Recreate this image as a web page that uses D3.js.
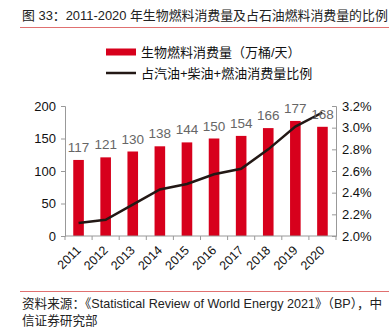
<!DOCTYPE html>
<html><head><meta charset="utf-8">
<script src="https://cdn.jsdelivr.net/npm/d3@7"></script>
<style>body{margin:0;background:#fff;}text{font-family:"Liberation Sans","Noto Sans CJK SC",sans-serif;}</style>
</head><body>
<svg id="c" width="389" height="329"></svg>
<script>
const years = ["2011","2012","2013","2014","2015","2016","2017","2018","2019","2020"];
const biofuel = [117,121,130,138,144,150,154,166,177,168];
const ratio = [2.12,2.15,2.29,2.43,2.48,2.57,2.62,2.80,3.01,3.14];
const leftTicks = [0,50,100,150,200];
const rightTicks = [2.0,2.2,2.4,2.6,2.8,3.0,3.2];

const svg = d3.select("#c");
const cjk = '"Liberation Sans","Noto Sans CJK SC",sans-serif';

svg.append("text").attr("x",22).attr("y",20).attr("font-size",12.9).attr("fill","#222")
  .style("font-family",cjk).text("图 33：2011-2020 年生物燃料消费量及占石油燃料消费量的比例");
svg.append("line").attr("x1",20).attr("x2",389).attr("y1",27.5).attr("y2",27.5).attr("stroke","#e07070").attr("stroke-width",1);

// legend
svg.append("rect").attr("x",106).attr("y",48.5).attr("width",30).attr("height",7).attr("fill","#d7001c");
svg.append("text").attr("x",141).attr("y",57).attr("font-size",13).attr("fill","#111").style("font-family",cjk).text("生物燃料消费量（万桶/天）");
svg.append("line").attr("x1",106).attr("x2",136).attr("y1",73).attr("y2",73).attr("stroke","#231815").attr("stroke-width",2.5);
svg.append("text").attr("x",141).attr("y",78).attr("font-size",13).attr("fill","#111").style("font-family",cjk).text("占汽油+柴油+燃油消费量比例");

const xc = d3.scalePoint().domain(years).range([65,336]).padding(0.5);
const yL = d3.scaleLinear().domain([0,200]).range([236,106]);
const yR = d3.scaleLinear().domain([2.0,3.2]).range([236,106]);

// bars
svg.selectAll(".bar").data(biofuel).join("rect")
  .attr("x",(d,i)=>xc(years[i])-5.3).attr("width",10.6)
  .attr("y",d=>yL(d)).attr("height",d=>236-yL(d)).attr("fill","#d7001c");

// left axis
const gL = svg.append("g").attr("transform","translate(65,0)")
  .call(d3.axisLeft(yL).tickValues(leftTicks).tickSize(4).tickPadding(5));
gL.select(".domain").attr("stroke","#999");
gL.selectAll(".tick line").attr("stroke","#999");
gL.selectAll("text").attr("font-size",13).attr("fill","#111").style("font-family","Liberation Sans");

// right axis
const gR = svg.append("g").attr("transform","translate(336,0)")
  .call(d3.axisRight(yR).tickValues(rightTicks).tickSize(-4).tickPadding(6).tickFormat(d=>d.toFixed(1)+"%"));
gR.select(".domain").attr("stroke","#999");
gR.selectAll(".tick line").attr("stroke","#999");
gR.selectAll("text").attr("font-size",13).attr("fill","#111").style("font-family","Liberation Sans");

// x axis
const gX = svg.append("g").attr("transform","translate(0,236)");
gX.append("line").attr("x1",65).attr("x2",336).attr("stroke","#999");
const step = xc.step();
gX.selectAll(".tk").data(d3.range(years.length+1)).join("line")
  .attr("x1",i=>65+i*step).attr("x2",i=>65+i*step).attr("y1",0).attr("y2",4).attr("stroke","#999");
gX.selectAll(".lab").data(years).join("text")
  .attr("transform",d=>`translate(${xc(d)+3},${15}) rotate(-45)`)
  .attr("text-anchor","end").attr("font-size",12.5).attr("fill","#111").text(d=>d);

// line
svg.append("path").datum(ratio)
  .attr("d",d3.line().x((d,i)=>xc(years[i])).y(d=>yR(d)))
  .attr("fill","none").attr("stroke","#231815").attr("stroke-width",2.5);

// labels
svg.selectAll(".vl").data(biofuel).join("text")
  .attr("x",(d,i)=>xc(years[i])).attr("y",d=>yL(d)-8)
  .attr("text-anchor","middle").attr("font-size",13.5).attr("fill","#666").text(d=>d);

// footer
svg.append("line").attr("x1",20).attr("x2",389).attr("y1",291.5).attr("y2",291.5).attr("stroke","#e07070").attr("stroke-width",1);
svg.append("text").attr("x",22).attr("y",308).attr("font-size",12.6).attr("fill","#222").style("font-family",cjk)
  .text("资料来源：《Statistical Review of World Energy 2021》（BP），中");
svg.append("text").attr("x",22).attr("y",325).attr("font-size",12.6).attr("fill","#222").style("font-family",cjk)
  .text("信证券研究部");
</script>
</body></html>
